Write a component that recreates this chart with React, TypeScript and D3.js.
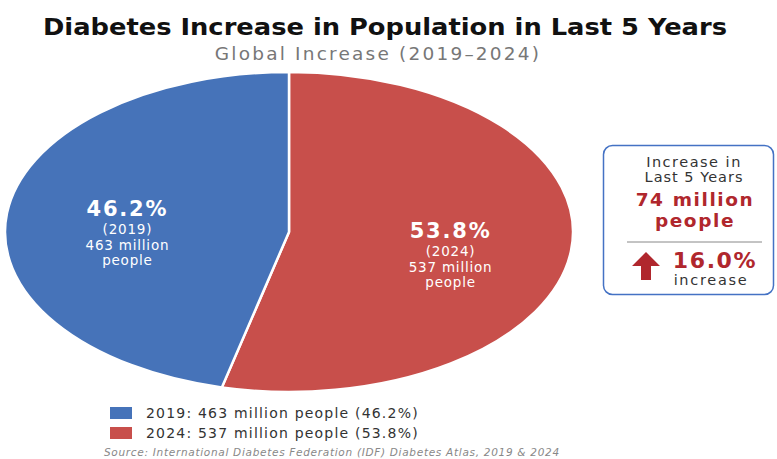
import React from "react";
import * as d3 from "d3";

const years = ["2019", "2024"];
const millions = [463, 537];
const shares = [46.2, 53.8];
const colors = ["#4673B9", "#C84F4B"];
const increaseMillions = 74;
const increasePct = 16.0;

const W = 777;
const H = 459;
const FONT = "'DejaVu Sans', Verdana, sans-serif";

export default function App() {
  const cx = 289, cy = 232, rx = 284, ry = 160;
  // red (2024) drawn clockwise from 12 o'clock, blue fills the rest
  const order = [1, 0];
  const pie = d3.pie<number>().sort(null).value((i) => shares[i]);
  const arcs = pie(order);
  const arc = d3.arc<d3.PieArcDatum<number>>().innerRadius(0).outerRadius(rx);
  const sy = ry / rx;

  const labelPos: Record<number, [number, number]> = {};
  arcs.forEach((a) => {
    const mid = (a.startAngle + a.endAngle) / 2;
    const kx = 0.573;
    const ky = a.data === 0 ? 0.85 : 0.32;
    labelPos[a.data] = [cx + Math.sin(mid) * rx * kx, cy - Math.cos(mid) * ry * ky];
  });

  return (
    <svg width={W} height={H} style={{ position: "absolute", left: 0, top: 0, background: "#fff" }} fontFamily={FONT}>
      <text x={385} y={35} textAnchor="middle" fontSize={23} fontWeight={700} fill="#111" textLength={684} lengthAdjust="spacingAndGlyphs">
        Diabetes Increase in Population in Last 5 Years
      </text>
      <text x={378} y={60} textAnchor="middle" fontSize={18.5} fill="#777" letterSpacing={2.2}>
        Global Increase (2019–2024)
      </text>

      <g transform={`translate(${cx},${cy}) scale(1,${sy})`}>
        {arcs.map((a) => (
          <path key={a.data} d={arc(a) || ""} fill={colors[a.data]} stroke="#fff" strokeWidth={2.5} vectorEffect="non-scaling-stroke" />
        ))}
      </g>

      {[0, 1].map((i) => {
        const [lx, ly] = labelPos[i];
        return (
          <g key={i} fill="#fff" textAnchor="middle">
            <text x={lx} y={ly} fontSize={21} fontWeight={700} letterSpacing={1.8}>{shares[i].toFixed(1)}%</text>
            <text x={lx} y={ly + 18} fontSize={13.5} letterSpacing={0.8}>({years[i]})</text>
            <text x={lx} y={ly + 34} fontSize={13.5} letterSpacing={0.8}>{millions[i]} million</text>
            <text x={lx} y={ly + 49} fontSize={13.5} letterSpacing={0.8}>people</text>
          </g>
        );
      })}

      <rect x={603.5} y={145.5} width={170} height={149} rx={9} fill="#fff" stroke="#4472C4" strokeWidth={1.5} />
      <g textAnchor="middle">
        <text x={694} y={167} fontSize={14.5} fill="#333" letterSpacing={1.5}>Increase in</text>
        <text x={694} y={182} fontSize={14.5} fill="#333" letterSpacing={1}>Last 5 Years</text>
        <text x={695} y={206} fontSize={18.5} fontWeight={700} fill="#B0272D" letterSpacing={1.6}>{increaseMillions} million</text>
        <text x={695} y={227} fontSize={18.5} fontWeight={700} fill="#B0272D" letterSpacing={1.6}>people</text>
      </g>
      <line x1={627} x2={762} y1={242} y2={242} stroke="#888" strokeWidth={1} />
      <path d="M646,252 L660,266 L651,266 L651,280 L641,280 L641,266 L632,266 Z" fill="#B0272D" />
      <text x={715} y={268} textAnchor="middle" fontSize={22} fontWeight={700} fill="#B0272D" letterSpacing={1.6}>{increasePct.toFixed(1)}%</text>
      <text x={711} y={285} textAnchor="middle" fontSize={14.5} fill="#333" letterSpacing={1.7}>increase</text>

      {[0, 1].map((i) => (
        <g key={i}>
          <rect x={110} y={407 + i * 20} width={22} height={12} fill={colors[i]} />
          <text x={146} y={418 + i * 20} fontSize={14} fill="#333" letterSpacing={1.2}>
            {years[i]}: {millions[i]} million people ({shares[i].toFixed(1)}%)
          </text>
        </g>
      ))}
      <text x={104} y={456} fontSize={10.5} fontStyle="italic" fill="#888" letterSpacing={0.7}>
        Source: International Diabetes Federation (IDF) Diabetes Atlas, 2019 &amp; 2024
      </text>
    </svg>
  );
}
